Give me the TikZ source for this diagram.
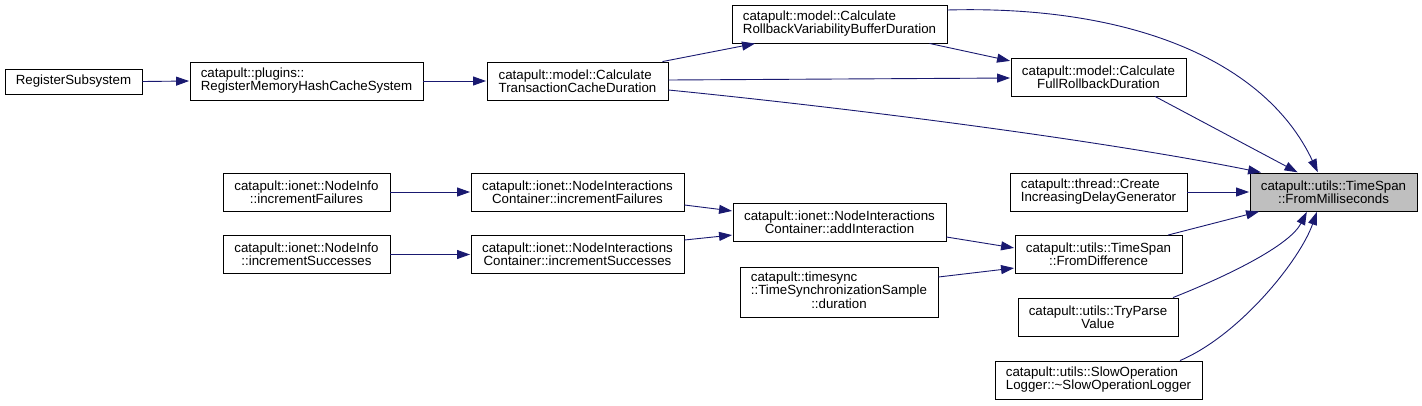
\documentclass[tikz,border=0pt]{standalone}
\usepackage{fontspec}
\setmainfont{Liberation Sans}
\usetikzlibrary{arrows.meta}
\definecolor{edgeblue}{HTML}{191970}
\definecolor{hilite}{HTML}{BFBFBF}
\tikzset{
  fnbox/.style={draw=black, line width=0.9pt, fill=white, inner sep=0pt,
    minimum height=38pt, font=\fontsize{13.3pt}{13pt}\selectfont, text=black},
  lbox/.style={fnbox, align=left},
  cbox/.style={fnbox, align=center},
  call/.style={draw=edgeblue, line width=0.9pt,
    -{Triangle[length=13pt, width=9pt]}, shorten >=0.5pt}
}
\begin{document}
\begin{tikzpicture}[x=1pt, y=-1pt]
\useasboundingbox (0,0) rectangle (1422,405);

% nodes
\node[cbox, minimum width=137pt, minimum height=25pt] (rs) at (73.5,81.5) {RegisterSubsystem};
\node[lbox, minimum width=233pt] (rm) at (306.5,81) {catapult::plugins::\\RegisterMemoryHashCacheSystem};
\node[lbox, minimum width=181pt] (tcd) at (577.5,81) {catapult::model::Calculate\\TransactionCacheDuration};
\node[lbox, minimum width=215pt] (rvb) at (839.5,24) {catapult::model::Calculate\\RollbackVariabilityBufferDuration};
\node[cbox, minimum width=175pt] (frd) at (1098.5,77) {catapult::model::Calculate\\FullRollbackDuration};
\node[cbox, minimum width=167pt, fill=hilite] (fms) at (1333.5,192) {catapult::utils::TimeSpan\\::FromMilliseconds};
\node[lbox, minimum width=177pt] (cidg) at (1098.5,192) {catapult::thread::Create\\IncreasingDelayGenerator};
\node[cbox, minimum width=167pt] (nif) at (306.5,192) {catapult::ionet::NodeInfo\\::incrementFailures};
\node[cbox, minimum width=167pt] (nis) at (306.5,254.5) {catapult::ionet::NodeInfo\\::incrementSuccesses};
\node[cbox, minimum width=213pt] (nicf) at (577.5,192) {catapult::ionet::NodeInteractions\\Container::incrementFailures};
\node[cbox, minimum width=213pt] (nics) at (577.5,254.5) {catapult::ionet::NodeInteractions\\Container::incrementSuccesses};
\node[cbox, minimum width=213pt] (nai) at (839.5,222.5) {catapult::ionet::NodeInteractions\\Container::addInteraction};
\node[cbox, minimum width=167pt] (fd) at (1098.5,254.5) {catapult::utils::TimeSpan\\::FromDifference};
\node[fnbox, minimum width=198pt, minimum height=50pt] (tss) at (839,292)
  {\begin{tabular}{@{}l@{}}catapult::timesync\\::TimeSynchronizationSample\\\multicolumn{1}{@{}c@{}}{::duration}\end{tabular}};
\node[cbox, minimum width=160pt] (tpv) at (1098,317) {catapult::utils::TryParse\\Value};
\node[lbox, minimum width=207pt] (sol) at (1098.5,380) {catapult::utils::SlowOperation\\Logger::\textasciitilde SlowOperationLogger};

% edges
\draw[call] (rs.east) -- (rm.west);
\draw[call] (rm.east) -- (tcd.west);
\draw[call] ([xshift=85pt]tcd.north) -- ([xshift=-84pt]rvb.south);
\draw[call] ([xshift=90pt]rvb.south) -- ([yshift=16pt]frd.west);
\draw[call] ([yshift=1pt]tcd.east) -- ([yshift=-1pt]frd.west);
\draw[call] ([yshift=14pt]rvb.east) .. controls (1130,5) and (1265,60) .. ([xshift=-15.5pt]fms.north);
\draw[call] ([xshift=56.5pt]frd.south) -- ([xshift=-35.5pt]fms.north);
\draw[call] ([yshift=-9pt]tcd.east) .. controls (850,108) and (1100,140) .. ([xshift=12pt]fms.north west);
\draw[call] (cidg.east) -- (fms.west);
\draw[call] ([xshift=69.5pt]fd.north) -- ([xshift=10pt]fms.south west);
\draw[call] ([xshift=75pt]tpv.north) .. controls (1230,275) and (1290,245) .. ([xshift=-26.5pt]fms.south);
\draw[call] ([xshift=81.5pt]sol.north) .. controls (1240,335) and (1300,260) .. ([xshift=-16.5pt]fms.south);
\draw[call] (nif.east) -- (nicf.west);
\draw[call] (nis.east) -- (nics.west);
\draw[call] ([yshift=-13pt]nicf.east) -- ([yshift=11.5pt]nai.west);
\draw[call] ([yshift=14.5pt]nics.east) -- ([yshift=-12.5pt]nai.west);
\draw[call] ([yshift=-14.5pt]nai.east) -- ([yshift=6.5pt]fd.west);
\draw[call] ([yshift=15pt]tss.east) -- ([yshift=-13.5pt]fd.west);
\end{tikzpicture}
\end{document}
